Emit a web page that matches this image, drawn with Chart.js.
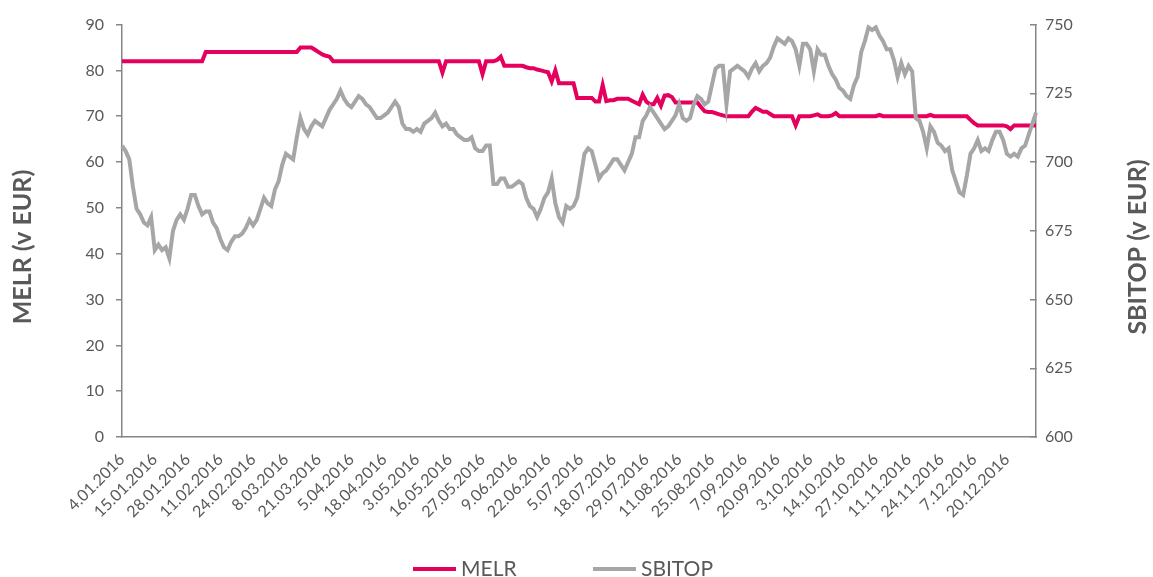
<!DOCTYPE html>
<html>
<head>
<meta charset="utf-8">
<script src="https://cdn.jsdelivr.net/npm/chart.js@4.4.1/dist/chart.umd.min.js"></script>
<style>
	html, body { margin: 0; padding: 0; background: #ffffff; }
	canvas { display: block; }
</style>
</head>
<body>
<canvas id="chart" width="1153" height="577"></canvas>
<script>
// **********************************************************************
// 				MELR vs SBITOP, 2016
// **********************************************************************

// labels shown on the x axis, one every 9 trading days
const tickLabels = ['4.01.2016', '15.01.2016', '28.01.2016', '11.02.2016', '24.02.2016', '8.03.2016',
	'21.03.2016', '5.04.2016', '18.04.2016', '3.05.2016', '16.05.2016', '27.05.2016', '9.06.2016',
	'22.06.2016', '5.07.2016', '18.07.2016', '29.07.2016', '11.08.2016', '25.08.2016', '7.09.2016',
	'20.09.2016', '3.10.2016', '14.10.2016', '27.10.2016', '11.11.2016', '24.11.2016', '7.12.2016',
	'20.12.2016'];
const labelStep = 9;

// MELR closing price (EUR), left axis
const melr = [
	82, 82, 82, 82, 82, 82, 82, 82, 82, 82, 82, 82,
	82, 82, 82, 82, 82, 82, 82, 82, 82, 82, 82, 84,
	84, 84, 84, 84, 84, 84, 84, 84, 84, 84, 84, 84,
	84, 84, 84, 84, 84, 84, 84, 84, 84, 84, 84, 84,
	84, 85, 85, 85, 85, 84.5, 84, 83.5, 83.2, 83, 82, 82,
	82, 82, 82, 82, 82, 82, 82, 82, 82, 82, 82, 82,
	82, 82, 82, 82, 82, 82, 82, 82, 82, 82, 82, 82,
	82, 82, 82, 82, 79.5, 82, 82, 82, 82, 82, 82, 82,
	82, 82, 82, 79.2, 82, 82, 82, 82.3, 83, 81, 81, 81,
	81, 81, 81, 80.7, 80.5, 80.5, 80.2, 80, 79.8, 79.6, 77.6, 80,
	77.2, 77.2, 77.2, 77.2, 77.2, 74, 74, 74, 74, 74, 73.2, 73.2,
	76.8, 73.3, 73.5, 73.5, 73.8, 73.8, 73.8, 73.8, 73.4, 73, 72.6, 74.7,
	73.2, 72.6, 72.6, 74, 72.3, 74.5, 74.6, 74.2, 73, 73, 73, 73,
	73, 73, 73, 72, 71.1, 70.9, 70.9, 70.7, 70.4, 70.2, 70, 70,
	70, 70, 70, 70, 70, 71, 71.8, 71.4, 71, 71, 70.5, 70,
	70, 70, 70, 70, 70, 68, 70, 70, 70, 70, 70.2, 70.4,
	70, 70, 70, 70.2, 70.7, 70, 70, 70, 70, 70, 70, 70,
	70, 70, 70, 70, 70.3, 70, 70, 70, 70, 70, 70, 70,
	70, 70, 70, 70, 70, 70, 70.3, 70, 70, 70, 70, 70,
	70, 70, 70, 70, 70, 69.2, 68.5, 68, 68, 68, 68, 68,
	68, 68, 68, 67.8, 67.2, 68, 68, 68, 68, 68, 68, 68
];

// SBITOP index level, right axis
const sbitop = [
	706, 704, 701, 691, 683, 681, 678, 677, 680, 668, 670, 668,
	669, 665, 675, 679, 681, 679, 683, 688, 688, 684, 681, 682,
	682, 678, 676, 672, 669, 668, 671, 673, 673, 674, 676, 679,
	677, 679, 683, 687, 685, 684, 690, 693, 699, 703, 702, 701,
	709, 716, 712, 710, 713, 715, 714, 713, 716, 719, 721, 723,
	726, 723, 721, 720, 722, 724, 723, 721, 720, 718, 716, 716,
	717, 718, 720, 722, 720, 714, 712, 712, 711, 712, 711, 714,
	715, 716, 718, 715, 713, 714, 712, 712, 710, 709, 708, 708,
	709, 705, 704, 704, 706, 706, 692, 692, 694, 694, 691, 691,
	692, 693, 692, 687, 684, 683, 680, 683, 687, 689, 694, 685,
	680, 678, 684, 683, 684, 687, 695, 703, 705, 704, 699, 694,
	696, 697, 699, 701, 701, 699, 697, 700, 703, 709, 709, 715,
	717, 720, 718, 716, 714, 712, 713, 715, 717, 721, 716, 715,
	716, 721, 724, 723, 721, 722, 728, 734, 735, 735, 721, 733,
	734, 735, 734, 733, 731, 734, 736, 733, 735, 736, 738, 742,
	745, 744, 743, 745, 744, 741, 735, 743, 743, 741, 733, 741,
	739, 739, 735, 732, 730, 727, 726, 724, 723, 728, 731, 740,
	744, 749, 748, 749, 746, 744, 741, 741, 737, 731, 736, 732,
	735, 733, 716, 715, 711, 705, 713, 711, 707, 706, 704, 705,
	697, 693, 689, 688, 695, 703, 705, 708, 704, 705, 704, 708,
	711, 711, 708, 703, 702, 703, 702, 705, 706, 710, 714, 718
];

const magenta = '#E6005E';
const grey = '#A6A6A6';
const textColor = '#595959';
const axisColor = '#868686';
const fontFamily = "Lato, 'Open Sans', sans-serif";

// one category per trading day, only every 9th one carries a date
const categories = melr.map((v, i) => (i % labelStep === 0 && tickLabels[i / labelStep]) ? tickLabels[i / labelStep] : '');

// axis titles read bottom-to-top on both sides, and a legend under the dates
const decorations = {
	id: 'decorations',
	afterDraw(chart) {
		const ctx = chart.ctx;
		const midY = 247;

		ctx.save();
		ctx.fillStyle = textColor;
		ctx.font = 'bold 25px ' + fontFamily;
		ctx.textAlign = 'center';
		ctx.textBaseline = 'middle';
		[['y', 23], ['y1', 1138]].forEach(([id, x]) => {
			const title = chart.scales[id].options.title.text;
			ctx.save();
			ctx.translate(x, midY);
			ctx.rotate(-Math.PI / 2);
			ctx.fillText(title, 0, 0);
			ctx.restore();
		});

		// legend
		const legendX = [413, 593];
		const lineY = 569;
		ctx.font = '21px ' + fontFamily;
		ctx.textAlign = 'left';
		ctx.textBaseline = 'alphabetic';
		chart.data.datasets.forEach((ds, i) => {
			const x = legendX[i];
			ctx.strokeStyle = ds.borderColor;
			ctx.lineWidth = 4;
			ctx.beginPath();
			ctx.moveTo(x, lineY);
			ctx.lineTo(x + 43, lineY);
			ctx.stroke();
			ctx.fillStyle = textColor;
			ctx.fillText(ds.label, x + 48, 576);
		});
		ctx.restore();
	}
};

const ctx = document.getElementById('chart').getContext('2d');
const chart = new Chart(ctx, {
	type: 'line',
	data: {
		labels: categories,
		datasets: [{
			label: 'MELR',
			data: melr,
			yAxisID: 'y',
			borderColor: magenta,
			backgroundColor: magenta,
			borderWidth: 4,
			pointRadius: 0,
			tension: 0,
			order: 1
		}, {
			label: 'SBITOP',
			data: sbitop,
			yAxisID: 'y1',
			borderColor: grey,
			backgroundColor: grey,
			borderWidth: 4,
			pointRadius: 0,
			tension: 0,
			order: 0
		}]
	},
	options: {
		responsive: false,
		animation: false,
		layout: {
			padding: {top: 24, left: 0, right: 0, bottom: 0}
		},
		plugins: {
			legend: {display: false},
			tooltip: {enabled: false}
		},
		scales: {
			x: {
				offset: false,
				grid: {display: false, drawTicks: false},
				border: {display: true, color: axisColor, width: 1.5},
				ticks: {
					autoSkip: false,
					minRotation: 45,
					maxRotation: 45,
					padding: 13,
					color: textColor,
					font: {family: fontFamily, size: 16}
				},
				afterFit: (scale) => { scale.height = 140; }
			},
			y: {
				position: 'left',
				min: 0,
				max: 90,
				title: {display: false, text: 'MELR (v EUR)'},
				grid: {drawOnChartArea: false, drawTicks: true, tickLength: 6, color: axisColor, lineWidth: 1.5},
				border: {display: true, color: axisColor, width: 1.5},
				ticks: {
					stepSize: 10,
					padding: 12,
					color: textColor,
					font: {family: fontFamily, size: 16}
				},
				afterFit: (scale) => { scale.width = 122; }
			},
			y1: {
				position: 'right',
				min: 600,
				max: 750,
				title: {display: false, text: 'SBITOP (v EUR)'},
				grid: {drawOnChartArea: false, drawTicks: true, tickLength: -6, color: axisColor, lineWidth: 1.5},
				border: {display: true, color: axisColor, width: 1.5},
				ticks: {
					stepSize: 25,
					padding: 15,
					color: textColor,
					font: {family: fontFamily, size: 16}
				},
				afterFit: (scale) => { scale.width = 117; }
			}
		}
	},
	plugins: [decorations]
});
</script>
</body>
</html>
